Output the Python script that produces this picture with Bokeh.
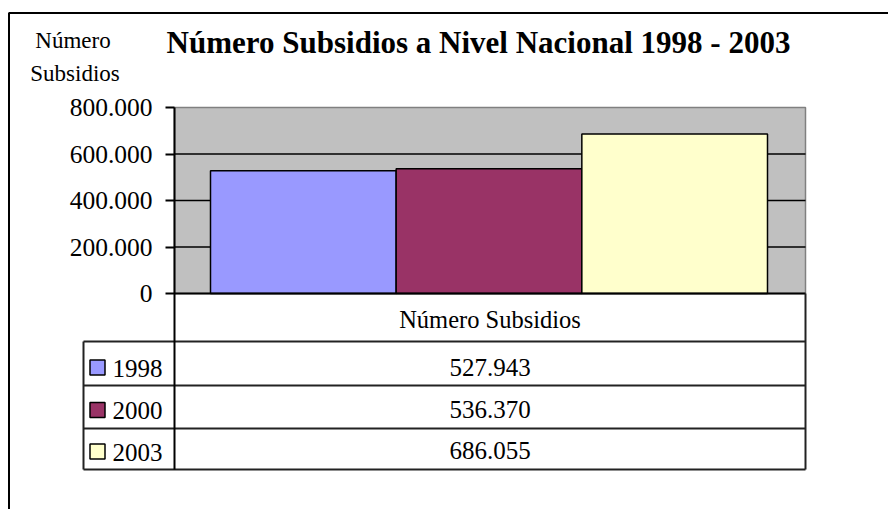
from bokeh.plotting import figure
from bokeh.models import Range1d, FixedTicker, LinearAxis
from bokeh.core.properties import value
from bokeh.embed import file_html
from bokeh.resources import INLINE

# ---------------- data ----------------
title_text = "Número Subsidios a Nivel Nacional 1998 - 2003"
axis_title = ["Número", "Subsidios"]
category = "Número Subsidios"
years = ["1998", "2000", "2003"]
subsidios = [527943, 536370, 686055]
colors = ["#9999FF", "#993366", "#FFFFCC"]
y_ticks = [0, 200000, 400000, 600000, 800000]
y_tick_labels = ["0", "200.000", "400.000", "600.000", "800.000"]


def fmt(v):
    return f"{v:,}".replace(",", ".")


# ---------------- layout (canvas pixels) ----------------
W, H = 888, 509
AREA_L, AREA_R = 174, 805
Y0_PX, YMAX_PX = 293, 107
BAR_L, BAR_R = 210, 767
TAB_L = 83
row_lines = [341, 385, 428, 469]
header_mid = 318.5
value_mids = [366.5, 409, 450]
year_mids = [367.5, 410, 451.5]
square_centers = [367, 409.5, 451]
FONT = "Liberation Serif"
LINE = "#222222"

n = len(years)
y_per_px = y_ticks[-1] / (Y0_PX - YMAX_PX)
x_per_px = n / (BAR_R - BAR_L)


def yd(py):
    return (Y0_PX - py) * y_per_px


def xd(px):
    return -0.5 + (px - BAR_L) * x_per_px


p = figure(width=W, height=H,
           x_range=Range1d(xd(0), xd(W)), y_range=Range1d(yd(H), yd(0)),
           output_backend="svg", toolbar_location=None,
           x_axis_location=None, y_axis_location=None,
           min_border=0)
p.title.visible = False
p.outline_line_color = None
p.grid.visible = False
p.background_fill_color = "white"
p.border_fill_color = "white"

# outer chart border (top and left visible)
p.segment(x0=[xd(8), xd(8.5)], x1=[xd(W + 10), xd(8.5)],
          y0=[yd(12.5), yd(12.5)], y1=[yd(12.5), yd(H + 10)],
          line_color="black", line_width=2)

# plot area background
p.quad(left=[xd(AREA_L)], right=[xd(AREA_R)], bottom=[y_ticks[0]], top=[y_ticks[-1]],
       fill_color="#C0C0C0", line_color="#808080", line_width=1.5)
# gridlines
inner = y_ticks[1:-1]
p.segment(x0=[xd(AREA_L)] * len(inner), x1=[xd(AREA_R)] * len(inner), y0=inner, y1=inner,
          line_color="black", line_width=1.5)
# bars
p.vbar(x=list(range(n)), top=subsidios, width=1, fill_color=colors,
       line_color="black", line_width=1.5)
# x axis line
p.segment(x0=[xd(AREA_L)], x1=[xd(AREA_R)], y0=[0], y1=[0], line_color="black", line_width=2)

# data table
p.segment(x0=[xd(TAB_L)] * len(row_lines), x1=[xd(AREA_R)] * len(row_lines),
          y0=[yd(r) for r in row_lines], y1=[yd(r) for r in row_lines],
          line_color=LINE, line_width=2)
p.segment(x0=[xd(AREA_R), xd(TAB_L)], x1=[xd(AREA_R), xd(TAB_L)],
          y0=[0, yd(row_lines[0])], y1=[yd(row_lines[-1]), yd(row_lines[-1])],
          line_color=LINE, line_width=2)
xc = (xd(AREA_L) + xd(AREA_R)) / 2
p.text(x=[xc], y=[yd(header_mid)], text=[category], text_font=value(FONT),
       text_font_size="24.5px", text_align="center", text_baseline="middle",
       text_color="black")
p.text(x=[xc] * n, y=[yd(m) for m in value_mids], text=[fmt(v) for v in subsidios],
       text_font=value(FONT), text_font_size="25px", text_align="center",
       text_baseline="middle", text_color="black")
# legend keys
p.quad(left=[xd(89.5)] * n, right=[xd(104.5)] * n,
       top=[yd(c - 7.5) for c in square_centers], bottom=[yd(c + 7.5) for c in square_centers],
       fill_color=colors, line_color="black", line_width=1.5)
p.text(x=[xd(112)] * n, y=[yd(m) for m in year_mids], text=years,
       text_font=value(FONT), text_font_size="25px", text_align="left",
       text_baseline="middle", text_color="black")

# titles
p.text(x=[xd(478)], y=[yd(41.5)], text=[title_text], text_font=value(FONT),
       text_font_size="31px", text_font_style="bold", text_align="center",
       text_baseline="middle", text_color="black")
p.text(x=[xd(72.5), xd(74.5)], y=[yd(40), yd(72.5)], text=axis_title,
       text_font=value(FONT), text_font_size="23px", text_align="center",
       text_baseline="middle", text_color="black")

# y axis, drawn at the plot area's left edge
ax = LinearAxis(fixed_location=xd(AREA_L), bounds=(yd(row_lines[-1]), y_ticks[-1]),
                ticker=FixedTicker(ticks=y_ticks))
ax.major_label_overrides = dict(zip(y_ticks, y_tick_labels))
ax.major_label_text_font = FONT
ax.major_label_text_font_size = "25.5px"
ax.major_label_text_color = "black"
ax.major_tick_in = 0
ax.major_tick_out = 9
ax.minor_tick_in = 0
ax.minor_tick_out = 0
ax.major_label_standoff = 13
ax.axis_line_color = "black"
ax.axis_line_width = 2
ax.major_tick_line_color = "black"
ax.major_tick_line_width = 2
p.add_layout(ax, "left")

open("out.html", "w").write(file_html(p, INLINE))
